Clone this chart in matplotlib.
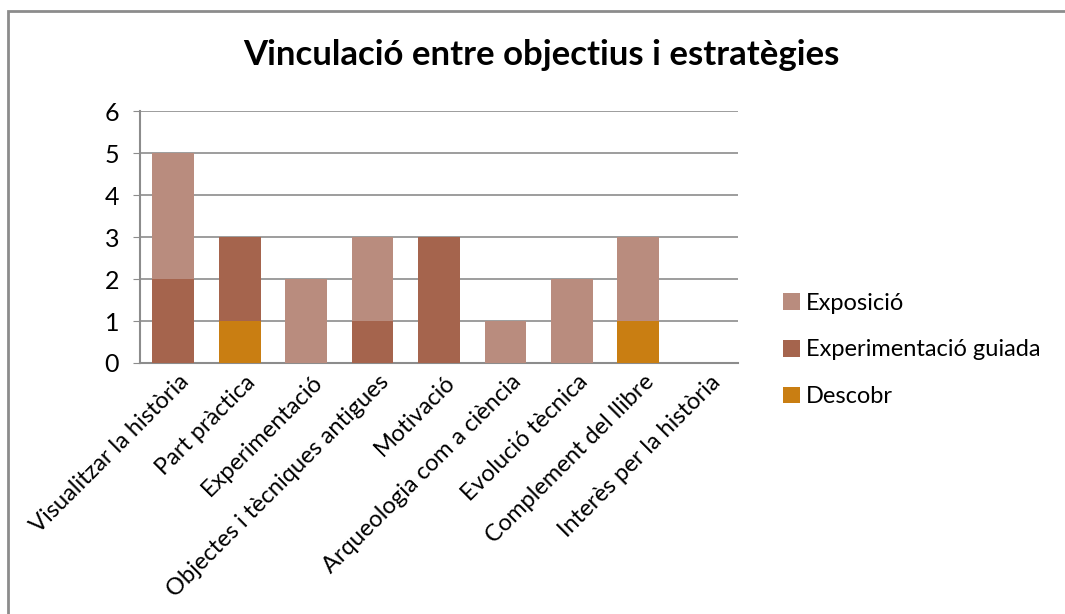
import matplotlib.pyplot as plt
import numpy as np
from matplotlib.patches import Rectangle

categories = ['Visualitzar la història', 'Part pràctica', 'Experimentació',
              'Objectes i tècniques antigues', 'Motivació', 'Arqueologia com a ciència',
              'Evolució tècnica', 'Complement del llibre', 'Interès per la història']
descobr = [0, 1, 0, 0, 0, 0, 0, 1, 0]
guiada = [2, 2, 0, 1, 3, 0, 0, 0, 0]
exposicio = [3, 0, 2, 2, 0, 1, 2, 2, 0]
colors = {'Exposició': '#B98C7E', 'Experimentació guiada': '#A5644D', 'Descobr': '#C97E12'}

plt.rcParams['font.family'] = ['Lato', 'DejaVu Sans']

fig = plt.figure(figsize=(10.65, 6.14), dpi=100)
# marc exterior del gràfic
fig.patches.append(Rectangle((8/1065, -0.1), 1.2, (614-11)/614 + 0.1, transform=fig.transFigure,
                             fill=False, edgecolor='#8c8c8c', linewidth=2))

ax = fig.add_axes([140/1065, 1-363/614, (738-140)/1065, (363-111)/614])
x = np.arange(len(categories))
w = 0.63
d = np.array(descobr)
g = np.array(guiada)
e = np.array(exposicio)
ax.bar(x, d, w, color=colors['Descobr'], label='Descobr', zorder=3)
ax.bar(x, g, w, bottom=d, color=colors['Experimentació guiada'], label='Experimentació guiada', zorder=3)
ax.bar(x, e, w, bottom=d+g, color=colors['Exposició'], label='Exposició', zorder=3)

ax.set_xlim(-0.5, len(categories)-0.5)
ax.set_ylim(0, 6)
ax.set_yticks(range(7))
ax.grid(axis='y', color='#8c8c8c', linewidth=1.2, zorder=0)
for s in ['top', 'right']:
    ax.spines[s].set_visible(False)
for s in ['left', 'bottom']:
    ax.spines[s].set_color('#8c8c8c')
    ax.spines[s].set_linewidth(1.5)
ax.tick_params(axis='y', length=5, color='#8c8c8c', labelsize=18, pad=10)
ax.tick_params(axis='x', length=0, pad=6)
ax.set_xticks(x + 0.08)
ax.set_xticklabels(categories, rotation=45, ha='right', rotation_mode='anchor', fontsize=17)

fig.text(541/1065, 1-55/614, 'Vinculació entre objectius i estratègies', ha='center', va='center',
         fontsize=25, fontweight='bold')

h, l = ax.get_legend_handles_labels()
leg = fig.legend(h[::-1], l[::-1], loc='center left', bbox_to_anchor=(762/1065, 1-350/614),
                 frameon=False, fontsize=17, handlelength=0.7, handleheight=0.7,
                 labelspacing=1.1, handletextpad=0.25)

plt.savefig('out.png', dpi=100)
